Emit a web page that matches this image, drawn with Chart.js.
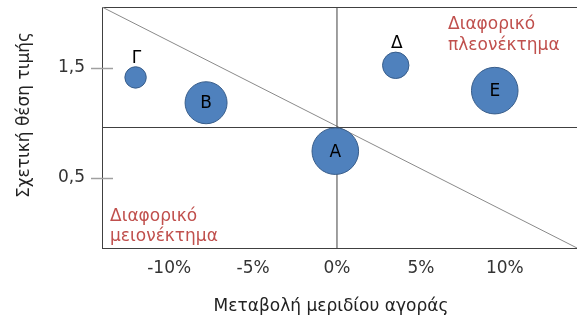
<!DOCTYPE html>
<html>
<head>
<meta charset="utf-8">
<script src="https://cdn.jsdelivr.net/npm/chart.js@4.4.0/dist/chart.umd.min.js"></script>
<style>
  html, body { margin: 0; padding: 0; background: #fff; }
  #wrap { width: 577px; height: 320px; }
</style>
</head>
<body>
<div id="wrap"><canvas id="chart"></canvas></div>
<script>
/* ── Data ────────────────────────────────────────────────── */
const firms       = ['Γ', 'Β', 'Α', 'Δ', 'Ε'];
const shareChange = [-12, -7.8, -0.1, 3.5, 9.4];      // % change of market share
const pricePos    = [1.41, 1.18, 0.74, 1.52, 1.29];   // relative price position
const bubbleSize  = [10.7, 21, 23.3, 13.2, 23.3];
const xTicks      = [-10, -5, 0, 5, 10];
const yTicks      = [0.5, 1.5];
const xRange      = [-14, 14.3];
const yRange      = [-0.14, 2.05];
const crossX      = 0;
const crossY      = 0.955;

const FONT   = 'DejaVu Sans';
const LINE   = '#404040';
const DIAG   = '#8a8a8a';
const BLUE   = '#4f81bd';
const RED    = '#c0504d';

const points = firms.map((f, i) => ({ x: shareChange[i], y: pricePos[i], r: bubbleSize[i] }));

/* ── Frame, tick marks, labels and texts ─────────────────── */
const decor = {
  id: 'decor',
  beforeDatasetsDraw(chart) {
    const { ctx, chartArea: a, scales: { y } } = chart;
    ctx.save();
    ctx.strokeStyle = LINE; ctx.lineWidth = 1;
    ctx.beginPath(); ctx.moveTo(a.left, a.top + 0.5); ctx.lineTo(a.right, a.top + 0.5); ctx.stroke();
    ctx.strokeStyle = '#a0a0a0'; ctx.lineWidth = 1.5;
    yTicks.forEach(v => {
      const py = Math.round(y.getPixelForValue(v)) + 0.5;
      ctx.beginPath(); ctx.moveTo(a.left - 11, py); ctx.lineTo(a.left + 11, py); ctx.stroke();
    });
    ctx.restore();
  },
  afterDatasetsDraw(chart) {
    const { ctx, chartArea: a } = chart;
    const meta = chart.getDatasetMeta(0);
    ctx.save();
    ctx.font = '17px "' + FONT + '"';
    ctx.fillStyle = '#000';
    ctx.textAlign = 'center';
    meta.data.forEach((el, i) => {
      const r = bubbleSize[i];
      if (r < 15) {
        ctx.textBaseline = 'alphabetic';
        ctx.fillText(firms[i], el.x + 1, el.y - r - 4);
      } else {
        ctx.textBaseline = 'middle';
        ctx.fillText(firms[i], el.x, el.y + 1);
      }
    });

    /* quadrant notes */
    ctx.fillStyle = RED;
    ctx.textAlign = 'left';
    ctx.textBaseline = 'alphabetic';
    ctx.fillText('Διαφορικό', 448, 29);
    ctx.fillText('πλεονέκτημα', 448, 50);
    ctx.fillText('Διαφορικό', a.left + 8, 221);
    ctx.fillText('μειονέκτημα', a.left + 8, 241);

    /* axis titles */
    ctx.fillStyle = '#222';
    ctx.textAlign = 'center';
    ctx.textBaseline = 'middle';
    ctx.fillText('Μεταβολή μεριδίου αγοράς', 331, 307);
    ctx.translate(25, 115);
    ctx.rotate(-Math.PI / 2);
    ctx.fillText('Σχετική θέση τιμής', 0, 0);
    ctx.restore();
  }
};

new Chart(document.getElementById('chart'), {
  type: 'bubble',
  data: {
    datasets: [
      {
        label: 'Firms',
        data: points,
        backgroundColor: BLUE,
        borderColor: '#385d8a',
        borderWidth: 1,
        hoverRadius: 0,
        order: 0,
      },
      {
        type: 'scatter', showLine: true, pointRadius: 0, order: 1,
        borderColor: LINE, borderWidth: 1,
        data: [{ x: crossX, y: yRange[0] }, { x: crossX, y: yRange[1] }],
      },
      {
        type: 'scatter', showLine: true, pointRadius: 0, order: 1,
        borderColor: LINE, borderWidth: 1,
        data: [{ x: xRange[0], y: crossY }, { x: xRange[1], y: crossY }],
      },
      {
        type: 'scatter', showLine: true, pointRadius: 0, order: 1,
        borderColor: DIAG, borderWidth: 1,
        data: [{ x: xRange[0], y: yRange[1] }, { x: xRange[1], y: yRange[0] }],
      },
    ],
  },
  options: {
    responsive: true, maintainAspectRatio: false,
    animation: false,
    layout: { autoPadding: false, padding: { top: 7, right: 0, bottom: 0, left: 0 } },
    plugins: { legend: { display: false }, tooltip: { enabled: false } },
    scales: {
      x: {
        type: 'linear', min: xRange[0], max: xRange[1],
        afterFit: s => { s.height = 72; s.paddingLeft = 0; s.paddingRight = 0; },
        afterBuildTicks: s => { s.ticks = xTicks.map(v => ({ value: v })); },
        grid: { display: false, drawTicks: false },
        border: { display: true, color: LINE, width: 1 },
        ticks: {
          padding: 10, color: '#333', maxRotation: 0,
          font: { family: FONT, size: 17 },
          callback: v => v + '%',
        },
      },
      y: {
        type: 'linear', min: yRange[0], max: yRange[1],
        afterFit: s => { s.width = 102; s.paddingTop = 0; s.paddingBottom = 0; },
        afterBuildTicks: s => { s.ticks = yTicks.map(v => ({ value: v })); },
        grid: { display: false, drawTicks: false },
        border: { display: true, color: LINE, width: 1 },
        ticks: {
          padding: 17, color: '#333',
          font: { family: FONT, size: 17 },
          callback: v => String(v).replace('.', ','),
        },
      },
    },
  },
  plugins: [decor],
});
</script>
</body>
</html>
